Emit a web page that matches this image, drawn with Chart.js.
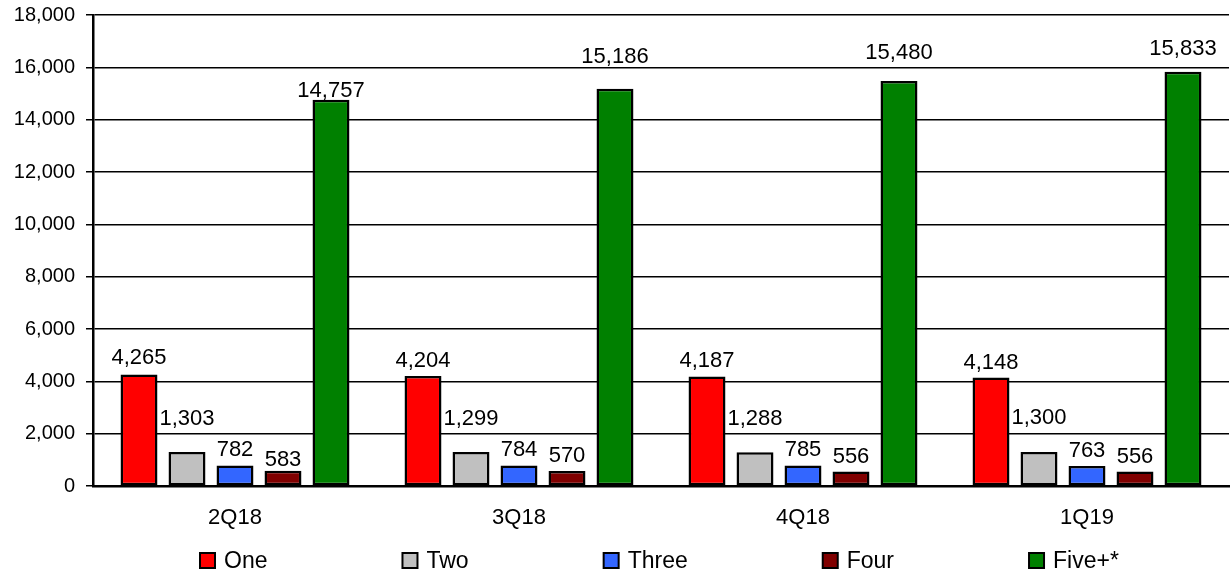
<!DOCTYPE html>
<html>
<head>
<meta charset="utf-8">
<script src="https://cdn.jsdelivr.net/npm/chart.js@4/dist/chart.umd.min.js"></script>
<style>
  html, body { margin: 0; padding: 0; background: #fff; }
  #wrap { width: 1230px; height: 575px; position: relative; }
</style>
</head>
<body>
<div id="wrap"><canvas id="unitsChart"></canvas></div>
<script>
// Units by household size, quarterly
const quarters   = ['2Q18', '3Q18', '4Q18', '1Q19'];
const seriesNames = ['One', 'Two', 'Three', 'Four', 'Five+*'];
const one   = [4265, 4204, 4187, 4148];
const two   = [1303, 1299, 1288, 1300];
const three = [782, 784, 785, 763];
const four  = [583, 570, 556, 556];
const five  = [14757, 15186, 15480, 15833];
const yTicks = [0, 2000, 4000, 6000, 8000, 10000, 12000, 14000, 16000, 18000];

const colors = ['#ff0000', '#c0c0c0', '#3366ff', '#800000', '#008000'];
// gap (px) between bar top and label baseline, per series / quarter
const labelGaps = [
  [10, 9, 9, 8],
  [27, 27, 27, 28],
  [10, 9, 9, 9],
  [5, 9, 8, 8],
  [3, 26, 22, 17],
];
const font = '"Liberation Sans", Arial, sans-serif';

Chart.defaults.color = '#000';
Chart.defaults.font.family = font;

const valueLabels = {
  id: 'valueLabels',
  afterDatasetsDraw(chart) {
    const ctx = chart.ctx;
    ctx.save();
    ctx.font = '22px ' + font;
    ctx.fillStyle = '#000';
    ctx.textAlign = 'center';
    ctx.textBaseline = 'alphabetic';
    chart.data.datasets.forEach((ds, i) => {
      chart.getDatasetMeta(i).data.forEach((bar, j) => {
        ctx.fillText(ds.data[j].toLocaleString('en-US'), bar.x, bar.y - labelGaps[i][j]);
      });
    });
    ctx.restore();
  }
};

const bottomLegend = {
  id: 'bottomLegend',
  afterDraw(chart) {
    const ctx = chart.ctx;
    ctx.save();
    ctx.font = '23px ' + font;
    ctx.textBaseline = 'middle';
    ctx.textAlign = 'left';
    let x = 200;
    const y = 561;
    chart.data.datasets.forEach(ds => {
      ctx.fillStyle = ds.backgroundColor;
      ctx.fillRect(x, y - 8, 15, 15);
      ctx.lineWidth = 2;
      ctx.strokeStyle = '#000';
      ctx.strokeRect(x, y - 8, 15, 15);
      ctx.fillStyle = '#000';
      ctx.fillText(ds.label, x + 24, y + 1);
      x += 24 + ctx.measureText(ds.label).width + 135;
    });
    ctx.restore();
  }
};

const allSeries = [one, two, three, four, five];

new Chart(document.getElementById('unitsChart'), {
  type: 'bar',
  data: {
    labels: quarters,
    datasets: allSeries.map((vals, i) => ({
      label: seriesNames[i],
      data: vals,
      backgroundColor: colors[i],
      borderColor: '#000',
      borderWidth: 2.5,
      borderSkipped: false,
      categoryPercentage: 0.845,
      barPercentage: 0.77,
    })),
  },
  options: {
    responsive: true,
    maintainAspectRatio: false,
    animation: false,
    layout: { padding: { top: 15, right: 1, left: 0, bottom: 0 } },
    plugins: {
      legend: { display: false },
      tooltip: { enabled: false },
    },
    scales: {
      x: {
        grid: { display: false, drawTicks: false },
        border: { color: '#000', width: 2.5 },
        ticks: { font: { size: 22 }, padding: 19 },
        afterFit: s => { s.height = 89; },
      },
      y: {
        min: 0,
        max: 18000,
        afterBuildTicks: s => { s.ticks = yTicks.map(v => ({ value: v })); },
        grid: { color: '#000', lineWidth: 1.5, tickLength: 7 },
        border: { color: '#000', width: 2.5 },
        ticks: {
          font: { size: 20 },
          padding: 11,
          callback: v => v.toLocaleString('en-US'),
        },
        afterFit: s => { s.width = 93; s.paddingTop = 0; s.paddingBottom = 0; },
      },
    },
  },
  plugins: [valueLabels, bottomLegend],
});
</script>
</body>
</html>
